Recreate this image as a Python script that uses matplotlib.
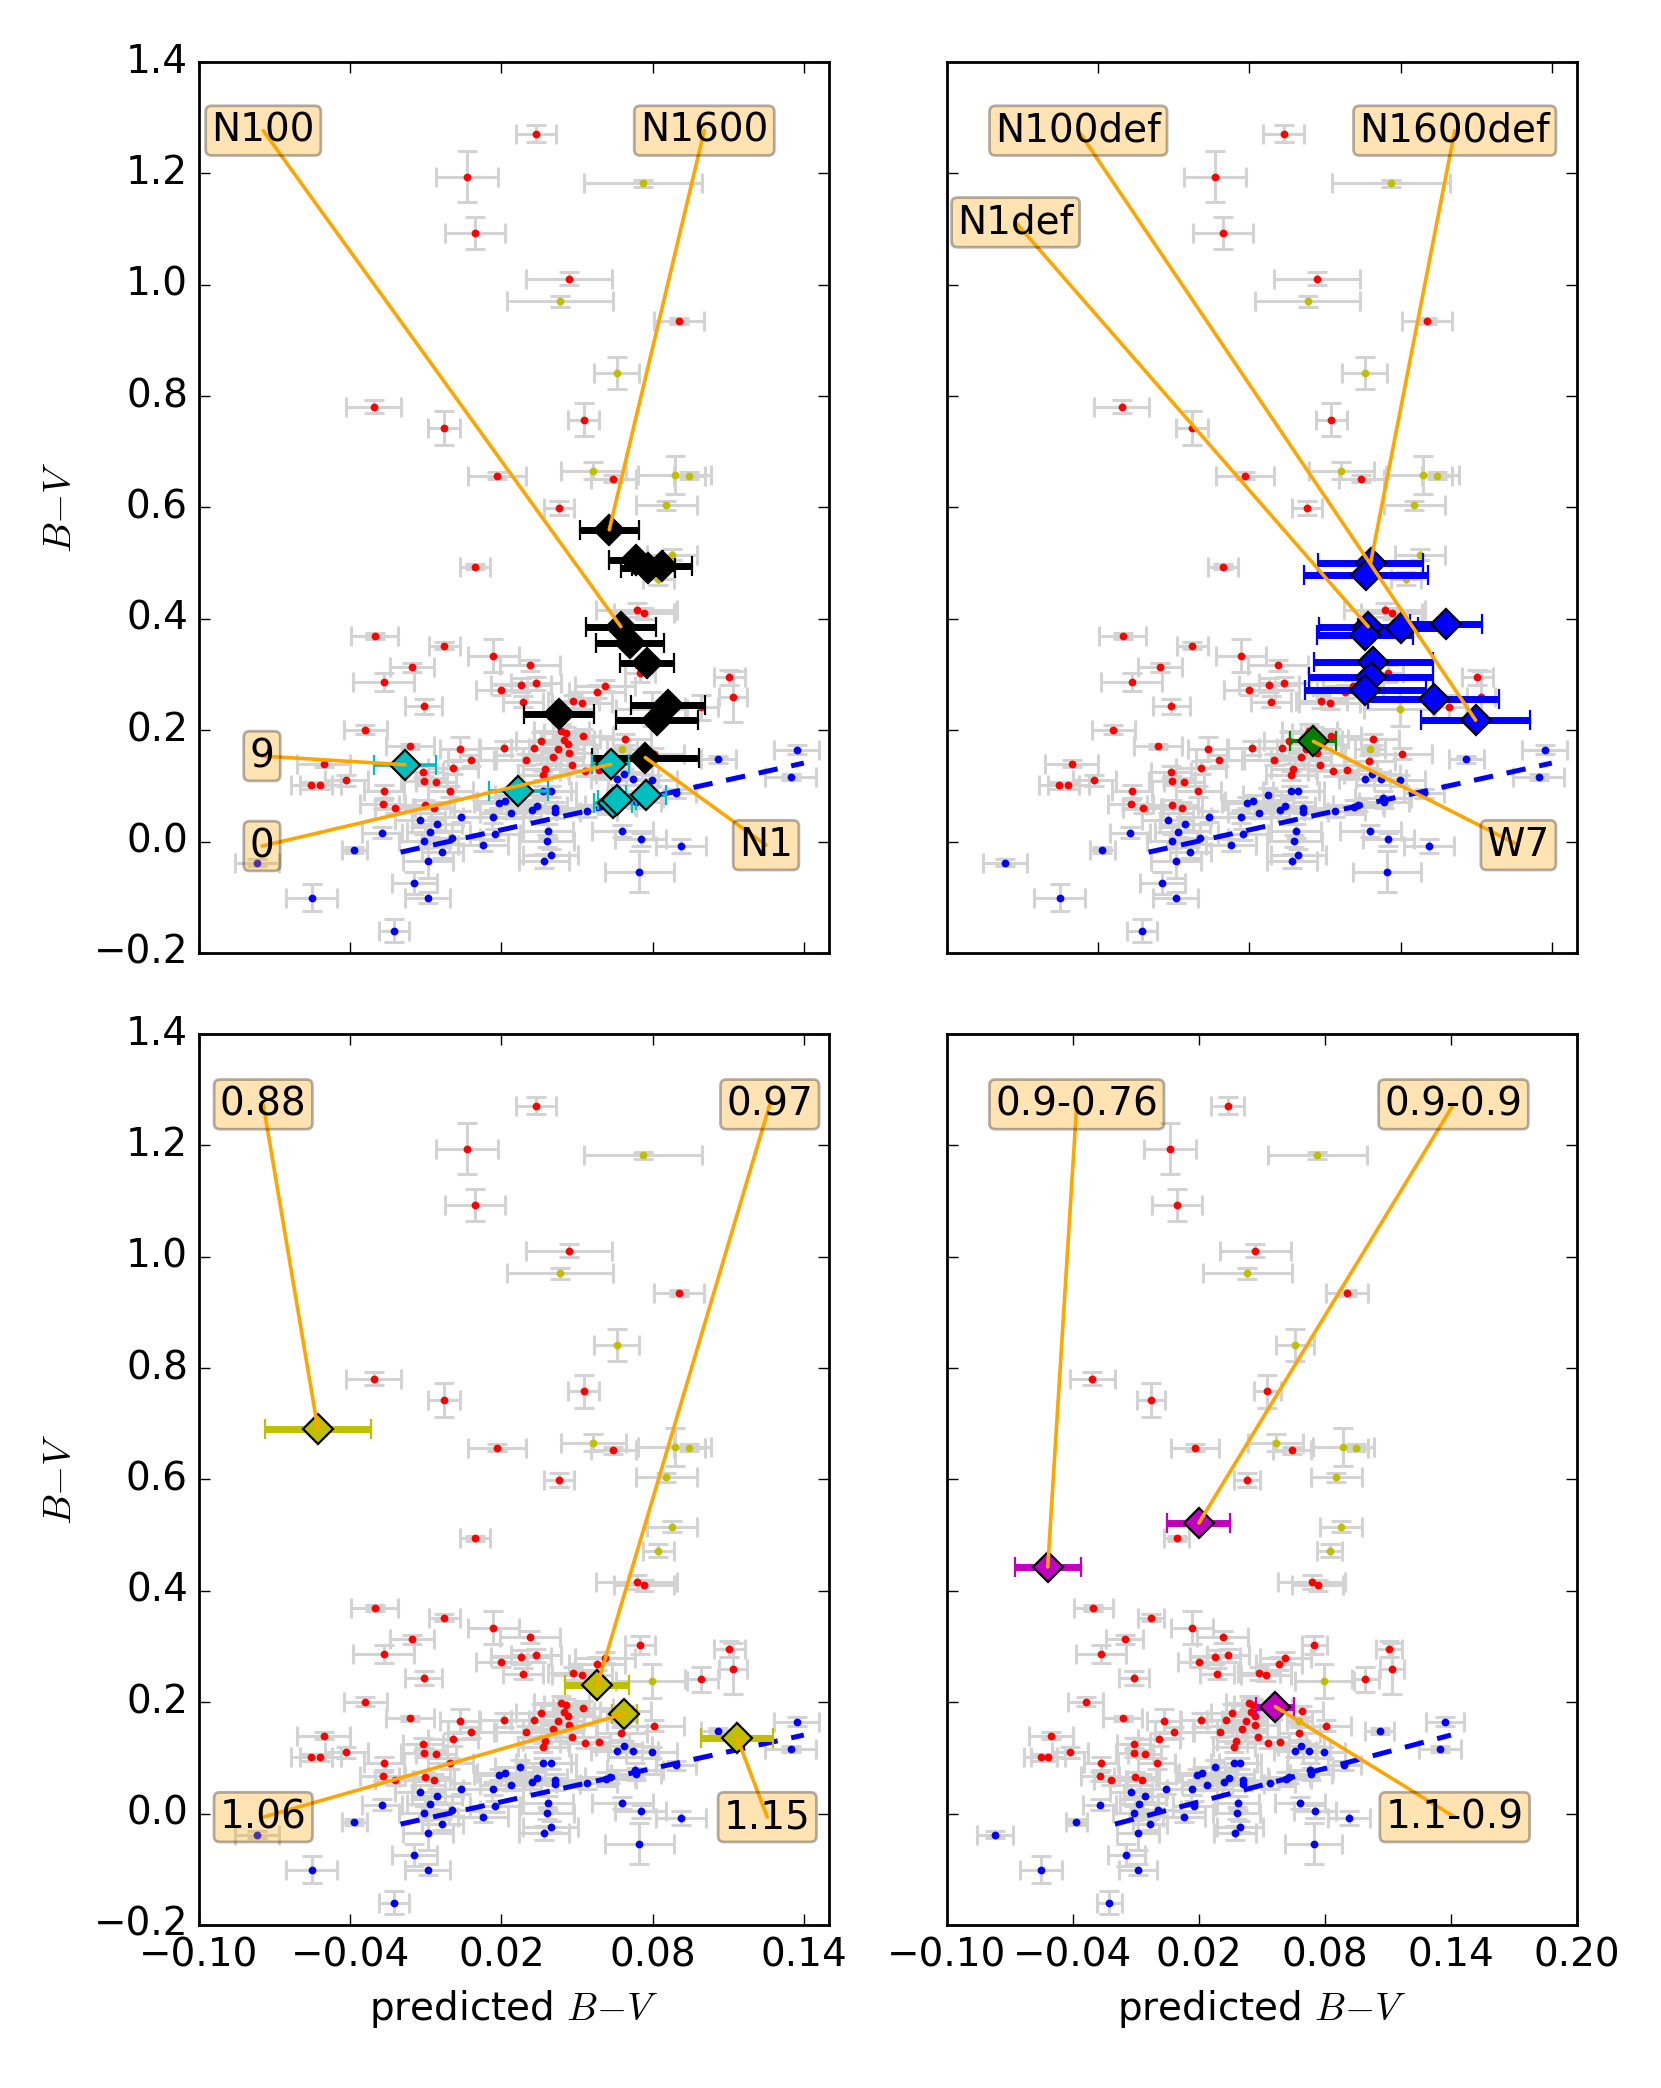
import matplotlib
matplotlib.use('Agg')
import matplotlib.pyplot as plt
import numpy as np

plt.style.use('classic')
plt.rcParams['font.size'] = 14

# background sample (same in every panel)
red_x = [0.0336, 0.0063, 0.0095, 0.0468, 0.0905, -0.0307, -0.0028, 0.0526, 0.0181, 0.0644, 0.0429, 0.0095, 0.0737, 0.0765,
         -0.0303, -0.0027, 0.0168, -0.0154, -0.0267, -0.0109, -0.0340, -0.0164, -0.0505, -0.0554, -0.0518, -0.0415,
         -0.0265, -0.0271, -0.0221, -0.0111, -0.0107, -0.0059, -0.0002, -0.0105, -0.0069, 0.0035, 0.0080, 0.0009,
         0.0200, 0.0277, 0.0285, 0.0313, 0.0338, 0.0211, 0.0298, 0.0328, 0.0358, 0.0375, 0.0367, 0.0405, 0.0426,
         0.0438, 0.0458, 0.0449, 0.0465, 0.0469, 0.0480, 0.0524, 0.0531, 0.0588, 0.0486, 0.0519, 0.0580, 0.0612,
         0.0676, 0.0804, 0.0750, 0.0993, 0.1105, 0.1120, 0.0692]
red_y = [1.271, 1.194, 1.093, 1.011, 0.935, 0.781, 0.743, 0.758, 0.657, 0.652, 0.599, 0.494, 0.416, 0.410,
         0.369, 0.352, 0.334, 0.313, 0.287, 0.243, 0.201, 0.171, 0.140, 0.101, 0.101, 0.110,
         0.090, 0.067, 0.060, 0.125, 0.109, 0.107, 0.090, 0.066, 0.061, 0.167, 0.146, 0.133,
         0.273, 0.281, 0.251, 0.317, 0.284, 0.168, 0.147, 0.168, 0.181, 0.130, 0.119, 0.152, 0.166,
         0.199, 0.195, 0.182, 0.175, 0.159, 0.137, 0.190, 0.127, 0.128, 0.252, 0.248, 0.269, 0.280,
         0.144, 0.158, 0.302, 0.241, 0.295, 0.260, 0.184]
red_xerr = [0.008, 0.0123, 0.012, 0.017, 0.010, 0.0108, 0.0065, 0.0063, 0.0115, 0.009, 0.006, 0.006, 0.016, 0.012,
            0.0093, 0.0061, 0.010, 0.0088, 0.012, 0.0073, 0.0085, 0.0095, 0.0106, 0.008, 0.008, 0.0086,
            0.008, 0.009, 0.008, 0.008, 0.009, 0.008, 0.009, 0.010, 0.008, 0.008, 0.009, 0.010,
            0.010, 0.012, 0.008, 0.012, 0.010, 0.010, 0.012, 0.009, 0.010, 0.009, 0.010, 0.012, 0.010,
            0.011, 0.009, 0.012, 0.010, 0.011, 0.010, 0.012, 0.010, 0.012, 0.010, 0.012, 0.011, 0.012,
            0.010, 0.012, 0.006, 0.0066, 0.0063, 0.0056, 0.010]
red_yerr = [0.015, 0.046, 0.028, 0.012, 0.006, 0.012, 0.031, 0.030, 0.006, 0.006, 0.012, 0.005, 0.012, 0.010,
            0.006, 0.006, 0.029, 0.008, 0.016, 0.013, 0.008, 0.005, 0.006, 0.006, 0.006, 0.010,
            0.012, 0.008, 0.008, 0.010, 0.008, 0.008, 0.010, 0.008, 0.010, 0.020, 0.010, 0.012,
            0.010, 0.012, 0.010, 0.010, 0.012, 0.012, 0.010, 0.012, 0.015, 0.010, 0.008, 0.012, 0.010,
            0.012, 0.010, 0.015, 0.010, 0.012, 0.010, 0.012, 0.010, 0.010, 0.012, 0.010, 0.012, 0.010,
            0.012, 0.010, 0.016, 0.022, 0.014, 0.046, 0.010]

blue_x = [-0.0770, -0.0384, -0.0553, -0.0226, -0.0145, -0.0092, -0.0091, -0.0108, -0.0034, -0.0273,
          -0.0124, -0.0085, -0.0055, 0.0041, 0.0005, 0.0127, 0.0167, 0.0175, 0.0190, 0.0215,
          0.0237, 0.0275, 0.0366, 0.0395, 0.0342, 0.0320, 0.0412, 0.0412, 0.0385, 0.0379,
          0.0370, 0.0395, 0.0538, 0.0615, 0.0630, 0.0657, 0.0686, 0.0723, 0.0796, 0.0730,
          0.0734, 0.0893, 0.1061, 0.0680, 0.0752, 0.0747, 0.0913, 0.1372, 0.1348]
blue_y = [-0.038, -0.015, -0.101, -0.160, -0.075, -0.101, -0.035, 0.001, -0.019, 0.016,
          0.039, 0.018, 0.032, 0.045, 0.007, -0.006, 0.045, 0.013, 0.070, 0.073,
          0.052, 0.084, 0.090, 0.090, 0.064, 0.056, 0.061, 0.053, 0.019, 0.001,
          -0.035, -0.024, 0.055, 0.062, 0.065, 0.112, 0.121, 0.113, 0.110, 0.078,
          0.071, 0.087, 0.148, 0.019, 0.004, -0.054, -0.008, 0.165, 0.116]
blue_xerr = [0.0086, 0.005, 0.010, 0.006, 0.009, 0.009, 0.010, 0.010, 0.008, 0.008,
             0.010, 0.009, 0.010, 0.012, 0.011, 0.010, 0.012, 0.010, 0.010, 0.011,
             0.012, 0.010, 0.011, 0.010, 0.012, 0.010, 0.012, 0.010, 0.010, 0.011,
             0.010, 0.011, 0.012, 0.012, 0.010, 0.010, 0.011, 0.010, 0.010, 0.011,
             0.010, 0.008, 0.007, 0.012, 0.010, 0.0136, 0.010, 0.009, 0.010]
blue_yerr = [0.006, 0.006, 0.024, 0.021, 0.020, 0.010, 0.030, 0.012, 0.010, 0.010,
             0.012, 0.010, 0.012, 0.010, 0.012, 0.010, 0.012, 0.010, 0.010, 0.010,
             0.010, 0.012, 0.010, 0.010, 0.010, 0.012, 0.010, 0.010, 0.012, 0.010,
             0.012, 0.010, 0.010, 0.012, 0.010, 0.010, 0.010, 0.012, 0.010, 0.012,
             0.010, 0.008, 0.006, 0.010, 0.012, 0.037, 0.012, 0.008, 0.006]

olive_x = [0.0763, 0.0431, 0.0657, 0.0565, 0.0888, 0.0946, 0.0855, 0.0877, 0.0823, 0.0796, 0.0678]
olive_y = [1.182, 0.970, 0.841, 0.666, 0.658, 0.657, 0.604, 0.515, 0.472, 0.238, 0.166]
olive_xerr = [0.0235, 0.021, 0.009, 0.013, 0.0145, 0.006, 0.012, 0.010, 0.006, 0.014, 0.006]
olive_yerr = [0.006, 0.010, 0.029, 0.015, 0.034, 0.006, 0.008, 0.010, 0.012, 0.030, 0.006]

fit_x = [-0.020, 0.140]
fit_y = [-0.019, 0.141]

# model predictions
black_x = [0.0628, 0.0735, 0.0781, 0.0837, 0.0674, 0.0711, 0.0777, 0.0429, 0.0860, 0.0817, 0.0771]
black_y = [0.560, 0.506, 0.491, 0.495, 0.386, 0.356, 0.321, 0.229, 0.245, 0.218, 0.151]
black_xerr = [0.0117, 0.0107, 0.0106, 0.0120, 0.0140, 0.0135, 0.0106, 0.0139, 0.0147, 0.0163, 0.0213]

cyan_x = [-0.0182, 0.0267, 0.0634, 0.0642, 0.0660, 0.0773]
cyan_y = [0.138, 0.091, 0.139, 0.069, 0.075, 0.084]
cyan_xerr = [0.0123, 0.0118, 0.0073, 0.0075, 0.0075, 0.0079]

def_x = [0.0681, 0.0662, 0.0672, 0.0660, 0.0802, 0.0980, 0.0692, 0.0684, 0.0660, 0.0931, 0.1098]
def_y = [0.500, 0.479, 0.386, 0.371, 0.383, 0.391, 0.323, 0.296, 0.272, 0.256, 0.218]
def_xerr = [0.0207, 0.0245, 0.0197, 0.019, 0.017, 0.0143, 0.0236, 0.0246, 0.024, 0.026, 0.0215]

w7_x = [0.0454]
w7_y = [0.180]
w7_xerr = [0.0091]

ni_x = [-0.0528, 0.0581, 0.0687, 0.1136]
ni_y = [0.690, 0.231, 0.179, 0.1355]
ni_xerr = [0.021, 0.0127, 0.005, 0.0143]
ni_labels = ['0.88', '0.97', '1.06', '1.15']

mg_x = [-0.052, 0.020, 0.0564]
mg_y = [0.443, 0.522, 0.192]
mg_xerr = [0.0157, 0.015, 0.009]
mg_labels = ['0.9-0.76', '0.9-0.9', '1.1-0.9']

# labels: text, target (x, y), text position in axes fraction
tl_labels = [('N100', (black_x[4], black_y[4]), (0.102, 0.923)),
             ('N1600', (black_x[0], black_y[0]), (0.802, 0.923)),
             ('9', (cyan_x[0], cyan_y[0]), (0.100, 0.221)),
             ('0', (cyan_x[2], cyan_y[2]), (0.100, 0.120)),
             ('N1', (black_x[10], black_y[10]), (0.900, 0.121))]
tr_labels = [('N100def', (def_x[10], def_y[10]), (0.2085, 0.923)),
             ('N1600def', (def_x[0], def_y[0]), (0.806, 0.923)),
             ('N1def', (def_x[2], def_y[2]), (0.109, 0.820)),
             ('W7', (w7_x[0], w7_y[0]), (0.907, 0.121))]
bl_pos = [(0.102, 0.921), (0.906, 0.921), (0.102, 0.121), (0.902, 0.121)]
br_pos = [(0.206, 0.921), (0.804, 0.921), (0.806, 0.121)]


def background(ax):
    for xs, ys, xe, ye in [(red_x, red_y, red_xerr, red_yerr),
                           (blue_x, blue_y, blue_xerr, blue_yerr),
                           (olive_x, olive_y, olive_xerr, olive_yerr)]:
        ax.errorbar(xs, ys, xerr=xe, yerr=ye, fmt='none', ecolor='lightgray',
                    elinewidth=1.1, capsize=3.5, capthick=1.1, zorder=1)
    for xs, ys, c in [(red_x, red_y, 'r'), (blue_x, blue_y, 'b'), (olive_x, olive_y, 'y')]:
        ax.plot(xs, ys, 'o', color=c, ms=2.8, mew=0, zorder=1.5)
    ax.plot(fit_x, fit_y, '--', color='b', lw=1.8, dashes=(7, 5), zorder=1.6)


def diamonds(ax, xs, ys, xe, c, lw=2.5):
    ax.errorbar(xs, ys, xerr=xe, fmt='D', mfc=c, mec='k', mew=0.8, ms=7.5,
                ecolor=c, elinewidth=lw, capsize=3.5, capthick=1.0, zorder=2)


def label(ax, text, xy, pos):
    ax.annotate(text, xy=xy, xytext=pos, textcoords='axes fraction',
                ha='center', va='center', fontsize=14, zorder=5,
                bbox=dict(boxstyle='round,pad=0.15', fc='orange', alpha=0.3),
                arrowprops=dict(arrowstyle='-', color='orange', lw=1.3,
                                shrinkA=0, shrinkB=0, patchA=None))


fig = plt.figure(figsize=(8.305, 10.44))
fig.patch.set_facecolor('white')
ax_tl = fig.add_axes([0.1198, 0.5436, 0.3793, 0.4267])
ax_tr = fig.add_axes([0.5701, 0.5436, 0.3793, 0.4267])
ax_bl = fig.add_axes([0.1198, 0.0781, 0.3793, 0.4267])
ax_br = fig.add_axes([0.5701, 0.0781, 0.3793, 0.4267])

for ax in [ax_tl, ax_tr, ax_bl, ax_br]:
    background(ax)
    ax.set_ylim(-0.2, 1.4)
    ax.set_yticks(np.arange(-0.2, 1.41, 0.2))

# top left
diamonds(ax_tl, black_x, black_y, black_xerr, 'k')
diamonds(ax_tl, cyan_x, cyan_y, cyan_xerr, 'c', lw=1.3)
for t, xy, pos in tl_labels:
    label(ax_tl, t, xy, pos)

# top right
diamonds(ax_tr, def_x, def_y, def_xerr, 'b')
diamonds(ax_tr, w7_x, w7_y, w7_xerr, 'g', lw=1.5)
for t, xy, pos in tr_labels:
    label(ax_tr, t, xy, pos)

# bottom left
diamonds(ax_bl, ni_x, ni_y, ni_xerr, 'y')
for t, x, y, pos in zip(ni_labels, ni_x, ni_y, bl_pos):
    label(ax_bl, t, (x, y), pos)

# bottom right
diamonds(ax_br, mg_x, mg_y, mg_xerr, 'm')
for t, x, y, pos in zip(mg_labels, mg_x, mg_y, br_pos):
    label(ax_br, t, (x, y), pos)

for ax in [ax_tl, ax_tr, ax_bl]:
    ax.set_xlim(-0.10, 0.15)
    ax.set_xticks([-0.10, -0.04, 0.02, 0.08, 0.14])
ax_br.set_xlim(-0.10, 0.20)
ax_br.set_xticks([-0.10, -0.04, 0.02, 0.08, 0.14, 0.20])

for ax in [ax_tl, ax_tr]:
    ax.set_xticklabels([])
for ax in [ax_tr, ax_br]:
    ax.set_yticklabels([])
for ax in [ax_tl, ax_bl]:
    ax.set_ylabel('$B{-}V$')
for ax in [ax_bl, ax_br]:
    ax.set_xlabel('predicted $B{-}V$')

fig.savefig('out.png', dpi=200, facecolor='white')
